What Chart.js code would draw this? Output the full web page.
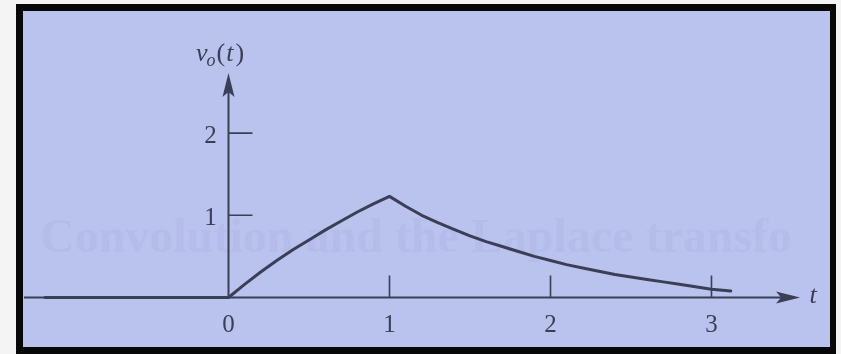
<!DOCTYPE html>
<html>
<head>
<meta charset="utf-8">
<title>v_o(t)</title>
<script src="https://cdn.jsdelivr.net/npm/chart.js@4.4.1/dist/chart.umd.min.js"></script>
<style>
  html, body { margin: 0; padding: 0; background: #f4f4f4; }
  canvas { display: block; }
</style>
</head>
<body>
<canvas id="voutGraph" width="841" height="354"></canvas>
<script>
// output voltage samples: zero before t = 0, rise until t = 1, then decay
const tValues = [-1.14, 0, 0.1, 0.2, 0.3, 0.4, 0.5, 0.6, 0.7, 0.8, 0.9, 1.0,
  1.1, 1.2, 1.3, 1.4, 1.5, 1.6, 1.7, 1.8, 1.9, 2.0,
  2.1, 2.2, 2.3, 2.4, 2.5, 2.6, 2.7, 2.8, 2.9, 3.0, 3.12];
const vValues = [0, 0, 0.16, 0.31, 0.45, 0.58, 0.70, 0.82, 0.93, 1.04, 1.14, 1.23,
  1.11, 1.00, 0.91, 0.83, 0.75, 0.68, 0.62, 0.56, 0.50, 0.45,
  0.40, 0.36, 0.32, 0.28, 0.25, 0.22, 0.19, 0.16, 0.13, 0.10, 0.08];

const xTicks = [1, 2, 3];
const xTickLabels = ['0', '1', '2', '3'];
const xLabelValues = [0, 1, 2, 3];
const yTicks = [1, 2];
const yTickLabels = ['1', '2'];

const ink = '#3b3f56';
const paper = '#bac2ee';
const serif = '"Liberation Serif", "DejaVu Serif", serif';

const vout = document.getElementById('voutGraph');

// page frame + faint show-through text from the back of the sheet
const framePlugin = {
  id: 'frame',
  beforeDraw(chart){
    const ctx = chart.ctx;
    ctx.save();
    ctx.fillStyle = '#f4f4f4';
    ctx.fillRect(0, 0, chart.width, chart.height);
    ctx.fillStyle = '#080808';
    ctx.fillRect(16, 4, 820, 350);
    ctx.fillStyle = paper;
    ctx.fillRect(23, 11, 807, 336);
    ctx.fillStyle = 'rgba(70,80,130,0.045)';
    ctx.font = 'bold 48px ' + serif;
    ctx.textBaseline = 'alphabetic';
    ctx.fillText('Convolution and the Laplace transfo', 40, 252, 790);
    ctx.restore();
  }
};

// hand-drawn style axes with arrow heads, ticks and labels
const axesPlugin = {
  id: 'axes',
  beforeDatasetsDraw(chart){
    const ctx = chart.ctx;
    const xs = chart.scales.x, ys = chart.scales.y;
    const x0 = xs.getPixelForValue(0), y0 = ys.getPixelForValue(0);
    const xEnd = xs.getPixelForValue(3.55);
    const yEnd = ys.getPixelForValue(2.73);
    ctx.save();
    ctx.strokeStyle = ink;
    ctx.fillStyle = ink;
    ctx.lineWidth = 2;

    ctx.beginPath();
    ctx.moveTo(xs.getPixelForValue(-1.27), y0);
    ctx.lineTo(xEnd - 8, y0);
    ctx.moveTo(x0, y0);
    ctx.lineTo(x0, yEnd + 8);
    ctx.stroke();

    // arrow heads
    ctx.beginPath();
    ctx.moveTo(xEnd, y0);
    ctx.lineTo(xEnd - 24, y0 - 6);
    ctx.lineTo(xEnd - 19, y0);
    ctx.lineTo(xEnd - 24, y0 + 6);
    ctx.closePath();
    ctx.fill();
    ctx.beginPath();
    ctx.moveTo(x0, yEnd);
    ctx.lineTo(x0 - 6, yEnd + 24);
    ctx.lineTo(x0, yEnd + 19);
    ctx.lineTo(x0 + 6, yEnd + 24);
    ctx.closePath();
    ctx.fill();

    // ticks
    ctx.lineWidth = 1.6;
    ctx.beginPath();
    for(let v of xTicks){
      const px = xs.getPixelForValue(v);
      ctx.moveTo(px, y0);
      ctx.lineTo(px, y0 - 22);
    }
    for(let v of yTicks){
      const py = ys.getPixelForValue(v);
      ctx.moveTo(x0, py);
      ctx.lineTo(x0 + 24, py);
    }
    ctx.stroke();

    // tick labels
    ctx.font = '25px ' + serif;
    ctx.textAlign = 'center';
    ctx.textBaseline = 'middle';
    xLabelValues.forEach((v, i) => {
      ctx.fillText(xTickLabels[i], xs.getPixelForValue(v), y0 + 28);
    });
    yTicks.forEach((v, i) => {
      ctx.fillText(yTickLabels[i], x0 - 18, ys.getPixelForValue(v) + 3);
    });

    // axis names
    ctx.font = 'italic 26px ' + serif;
    ctx.fillText('t', xEnd + 13, y0 - 1);

    ctx.textAlign = 'left';
    ctx.textBaseline = 'alphabetic';
    let cx = 196;
    const base = 61;
    ctx.font = 'italic 26px ' + serif;
    ctx.fillText('v', cx, base);
    cx += ctx.measureText('v').width - 1;
    ctx.font = 'italic 18px ' + serif;
    ctx.fillText('o', cx, base + 5);
    cx += ctx.measureText('o').width + 1;
    ctx.font = '26px ' + serif;
    ctx.fillText('(', cx, base);
    cx += ctx.measureText('(').width + 1;
    ctx.font = 'italic 26px ' + serif;
    ctx.fillText('t', cx, base);
    cx += ctx.measureText('t').width + 2;
    ctx.font = '26px ' + serif;
    ctx.fillText(')', cx, base);
    ctx.restore();
  }
};

const data = {
  datasets: [{
    label: 'v_o(t)',
    data: tValues.map((t, i) => ({x: t, y: vValues[i]})),
    borderColor: ink,
    borderWidth: 3,
    pointRadius: 0,
    fill: false,
    tension: 0,
    borderJoinStyle: 'round',
    borderCapStyle: 'round'
  }]
};

const config = {
  type: 'line',
  data: data,
  options: {
    responsive: false,
    animation: false,
    layout: {
      padding: {left: 19.2, right: 32.9, top: 9.8, bottom: 15.4}
    },
    scales: {
      x: {type: 'linear', min: -1.3, max: 3.6, display: false},
      y: {type: 'linear', min: -0.5, max: 3.5, display: false}
    },
    plugins: {
      legend: {display: false},
      tooltip: {enabled: false}
    }
  },
  plugins: [framePlugin, axesPlugin]
};

new Chart(vout, config);
</script>
</body>
</html>
